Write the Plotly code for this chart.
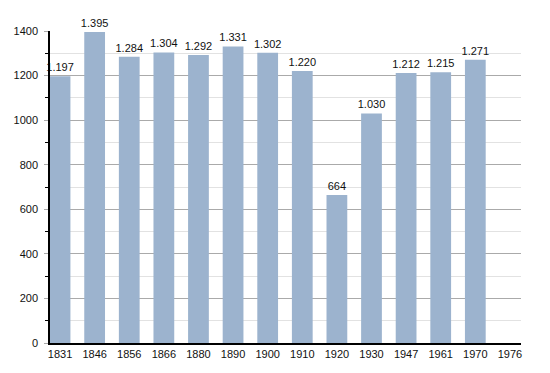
import plotly.graph_objects as go

years = ["1831", "1846", "1856", "1866", "1880", "1890", "1900", "1910", "1920", "1930", "1947", "1961", "1970", "1976"]
population = [1197, 1395, 1284, 1304, 1292, 1331, 1302, 1220, 664, 1030, 1212, 1215, 1271, None]

def fmt(v):
    if v is None:
        return ""
    s = f"{v:,}".replace(",", ".")
    return s

labels = [fmt(v) for v in population]

fig = go.Figure(go.Bar(
    x=years, y=population, text=labels, textposition="outside",
    textfont=dict(family="Liberation Sans, Arial", size=11, color="#111"),
    constraintext="none",
    marker=dict(color="#9cb3ce", line=dict(width=0)),
    width=0.6, cliponaxis=False, hoverinfo="x+y",
))

fig.update_layout(
    width=550, height=373,
    margin=dict(l=50, r=29, t=31, b=30),
    plot_bgcolor="white", paper_bgcolor="white",
    showlegend=False,
    font=dict(family="Liberation Sans, Arial", size=11, color="#111"),
)
fig.update_xaxes(
    type="category", range=[-0.29, 13.32],
    showline=True, linecolor="black", linewidth=1.5,
    ticks="", showgrid=False, tickfont=dict(size=11),
)
fig.update_yaxes(
    range=[0, 1400], dtick=200, tick0=0,
    showline=True, linecolor="black", linewidth=1.5,
    ticks="outside", ticklen=4, tickcolor="#aaa",
    gridcolor="#aaa", gridwidth=1, ticklabelstandoff=4,
    minor=dict(dtick=100, showgrid=True, gridcolor="#e2e2e2", ticks="outside", ticklen=3, tickcolor="black"),
    zeroline=False, tickfont=dict(size=11),
)

fig.write_html("out.html", config={"displayModeBar": False},
               post_script="document.body.style.margin='0';document.body.style.overflow='hidden';")
